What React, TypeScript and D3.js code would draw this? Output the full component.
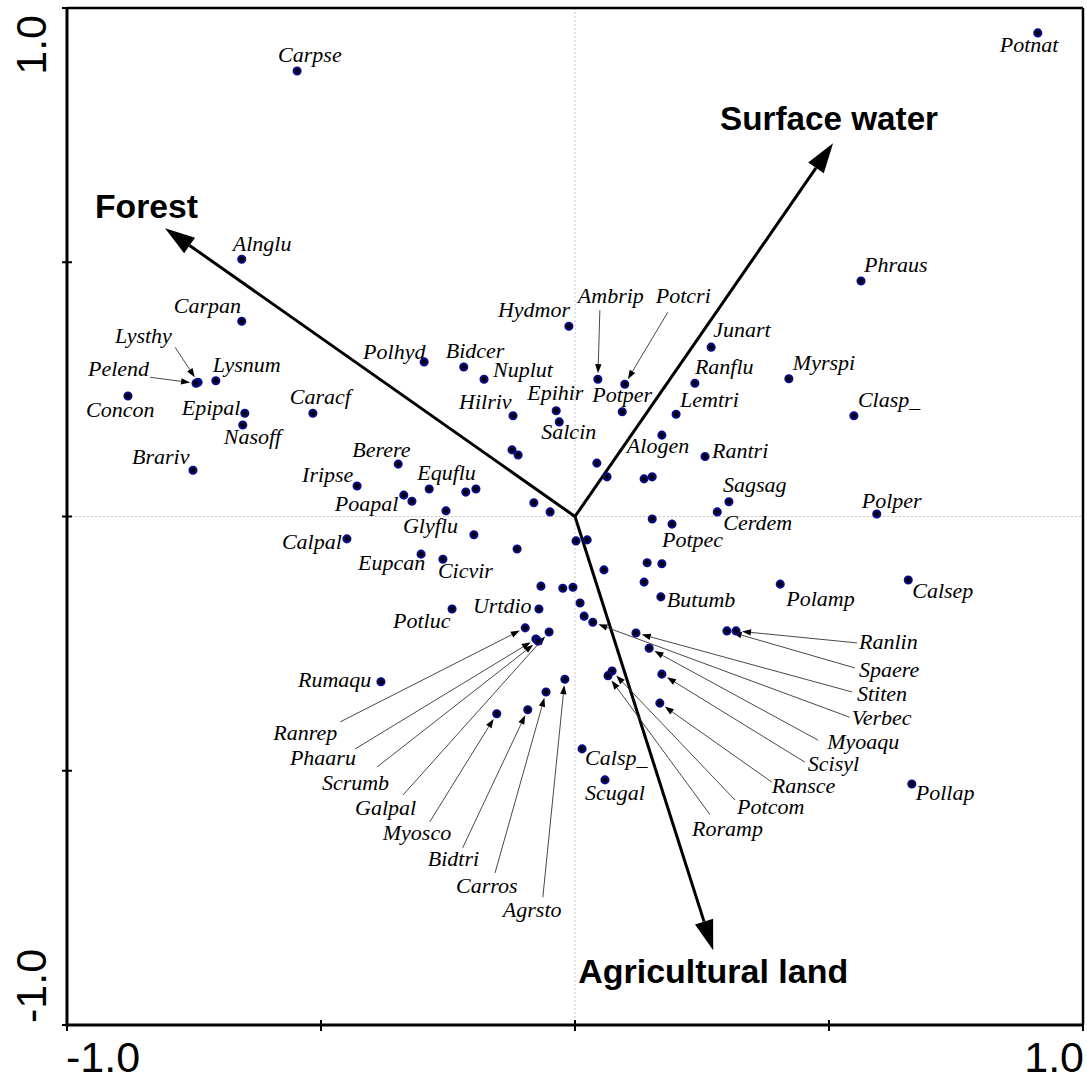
import React from "react";
import * as d3 from "d3";

// ---------- DATA ----------
const speciesNames = [
  "Carpse","Alnglu","Potnat","Phraus","Carpan","Lysthy","Pelend","Lysnum","Concon","Epipal",
  "Nasoff","Caracf","Brariv","Iripse","Calpal","Hydmor","Polhyd","Bidcer","Nuplut","Hilriv",
  "Epihir","Salcin","Ambrip","Potcri","Potper","Junart","Ranflu","Lemtri","Alogen","Rantri",
  "Berere","Equflu","Poapal","Glyflu","Eupcan","Cicvir","Potpec","Cerdem","Butumb","Myrspi",
  "Clasp_","Sagsag","Polper","Polamp","Calsep","Potluc","Urtdio","Rumaqu","Calsp_","Scugal",
  "Pollap","Ranrep","Phaaru","Scrumb","Galpal","Myosco","Bidtri","Carros","Agrsto","Ranlin",
  "Spaere","Stiten","Verbec","Myoaqu","Scisyl","Ransce","Potcom","Roramp",
];
const speciesAxis1 = [
  -0.547,-0.656,0.911,0.563,-0.656,-0.742,-0.746,-0.707,-0.880,-0.650,
  -0.654,-0.516,-0.752,-0.429,-0.449,-0.012,-0.297,-0.219,-0.179,-0.122,
  -0.037,-0.031,0.045,0.098,0.093,0.268,0.236,0.199,0.171,0.256,
  -0.348,-0.287,-0.337,-0.199,-0.303,-0.260,0.191,0.280,0.169,0.421,
  0.549,0.303,0.594,0.404,0.656,-0.242,-0.071,-0.382,0.014,0.059,
  0.663,-0.098,-0.077,-0.073,-0.051,-0.154,-0.093,-0.057,-0.020,0.317,
  0.299,0.120,0.035,0.146,0.171,0.167,0.073,0.065,
];
const speciesAxis2 = [
  0.876,0.506,0.951,0.463,0.384,0.264,0.262,0.267,0.237,0.203,
  0.180,0.203,0.091,0.060,-0.044,0.374,0.304,0.294,0.270,0.198,
  0.208,0.186,0.270,0.260,0.206,0.333,0.262,0.201,0.160,0.118,
  0.103,0.054,0.042,-0.036,-0.074,-0.084,-0.015,0.009,-0.158,0.271,
  0.198,0.029,0.005,-0.133,-0.125,-0.182,-0.182,-0.325,-0.457,-0.518,
  -0.526,-0.219,-0.241,-0.245,-0.227,-0.388,-0.380,-0.345,-0.320,-0.225,
  -0.225,-0.229,-0.208,-0.259,-0.310,-0.367,-0.304,-0.313,
];
// species drawn without a name
const unlabeledAxis1 = [
  -0.124,-0.112,0.043,0.063,0.136,0.152,-0.321,-0.215,-0.195,-0.254,
  -0.081,-0.049,-0.114,0.002,0.024,0.057,-0.067,-0.024,-0.004,0.010,
  0.018,0.152,0.142,0.171,0.136,
];
const unlabeledAxis2 = [
  0.131,0.121,0.105,0.078,0.074,0.078,0.030,0.048,0.054,0.011,
  0.027,0.009,-0.064,-0.048,-0.046,-0.105,-0.137,-0.141,-0.139,-0.170,
  -0.196,-0.005,-0.091,-0.093,-0.129,
];
const envNames = ["Forest", "Surface water", "Agricultural land"];
const envAxis1 = [-0.807, 0.508, 0.272];
const envAxis2 = [0.567, 0.734, -0.853];
const tickValues = [-1, -0.5, 0, 0.5, 1];
const tickLabels = ["-1.0", "1.0"];

// ---------- LAYOUT (label offsets, px) ----------
const labelOffsets: Record<string, [number, number]> = {
  Carpse: [-19, -9], Alnglu: [-9, -8], Potnat: [-38, 19], Phraus: [3, -9],
  Carpan: [-68, -8], Lysnum: [-3, -9], Concon: [-42, 21], Epipal: [-63, 2],
  Nasoff: [-19, 19], Caracf: [-23, -9], Brariv: [-61, -6], Iripse: [-55, -4],
  Calpal: [-65, 10], Hydmor: [-71, -9], Polhyd: [-61, -3], Bidcer: [-18, -9],
  Nuplut: [9, -2], Hilriv: [-54, -7], Epihir: [-29, -11], Salcin: [-18, 17],
  Potper: [-30, -10], Junart: [2, -10], Ranflu: [0, -9], Lemtri: [4, -7],
  Alogen: [-35, 18], Rantri: [7, 2], Berere: [-46, -7], Equflu: [-12, -9],
  Poapal: [-69, 16], Glyflu: [-71, -2], Eupcan: [-63, 16], Cicvir: [-5, 19],
  Potpec: [-10, 23], Cerdem: [6, 18], Butumb: [6, 10], Myrspi: [4, -9],
  Clasp_: [4, -9], Sagsag: [-6, -10], Polper: [-15, -6], Polamp: [6, 22],
  Calsep: [4, 18], Potluc: [-59, 19], Urtdio: [-66, 4], Rumaqu: [-83, 5],
  Calsp_: [3, 16], Scugal: [-20, 20], Pollap: [4, 16],
};
// [label dx, label dy from point, leader start dx, dy from label]
const leaderLayout: Record<string, [number, number, number, number]> = {
  Lysthy: [-83, -39, 60, 4], Pelend: [-108, -7, 62, 1],
  Ambrip: [-20, -76, 22, 7], Potcri: [31, -81, 12, 9],
  Ranrep: [-252, 112, 67, -18], Phaaru: [-246, 126, 65, -16],
  Scrumb: [-216, 149, 55, -23], Galpal: [-194, 183, 48, -20],
  Myosco: [-114, 126, 47, -18], Bidtri: [-100, 156, 35, -18],
  Carros: [-90, 201, 39, -20], Agrsto: [-62, 238, 40, -20],
  Ranlin: [123, 18, -2, -6], Spaere: [132, 46, -4, -9],
  Stiten: [221, 68, -5, -9], Verbec: [259, 103, -2, -8],
  Myoaqu: [178, 101, -9, -9], Scisyl: [146, 97, -3, -9],
  Ransce: [112, 90, 0, -11], Potcom: [125, 143, -2, -14],
  Roramp: [84, 160, 18, -21],
};
// [dx, dy, fontSize, textLength]
const envLabelLayout: [number, number, number, number][] = [
  [-70, -10, 33, 103], [-113, -13, 33, 218], [-135, 33, 33, 270],
];

const W = 1087, H = 1082;
const sx = d3.scaleLinear().domain([-1, 1]).range([67, 1083]);
const sy = d3.scaleLinear().domain([-1, 1]).range([1025, 8]);

function arrowHead(x1: number, y1: number, x2: number, y2: number, len: number, hw: number, gap: number) {
  const dx = x2 - x1, dy = y2 - y1;
  const L = Math.hypot(dx, dy);
  const ux = dx / L, uy = dy / L;
  const tx = x2 - ux * gap, ty = y2 - uy * gap;
  const bx = tx - ux * len, by = ty - uy * len;
  const px = -uy, py = ux;
  const poly = `${tx},${ty} ${bx + px * hw},${by + py * hw} ${bx - px * hw},${by - py * hw}`;
  return { poly, bx, by };
}

export default function App() {
  const serif = "'Liberation Serif', 'Times New Roman', serif";
  const sans = "'Liberation Sans', Arial, sans-serif";
  const ox = sx(0), oy = sy(0);

  return (
    <svg width={W} height={H} style={{ position: "absolute", left: 0, top: 0, background: "#fff" }}>
      {/* crosshair */}
      <line x1={ox} x2={ox} y1={sy(1)} y2={sy(-1)} stroke="#c4c4c4" strokeWidth={1} strokeDasharray="2,2" />
      <line x1={sx(-1)} x2={sx(1)} y1={oy} y2={oy} stroke="#c4c4c4" strokeWidth={1} strokeDasharray="2,2" />

      {/* frame */}
      <line x1={sx(-1)} x2={sx(1)} y1={sy(1)} y2={sy(1)} stroke="#000" strokeWidth={2.5} />
      <line x1={sx(1)} x2={sx(1)} y1={sy(1)} y2={sy(-1)} stroke="#000" strokeWidth={2.5} />
      <line x1={sx(-1)} x2={sx(-1)} y1={sy(1) - 1} y2={sy(-1) + 1.5} stroke="#000" strokeWidth={3} />
      <line x1={sx(-1) - 1.5} x2={sx(1) + 1} y1={sy(-1)} y2={sy(-1)} stroke="#000" strokeWidth={3} />
      {tickValues.map((t) => (
        <line key={"yt" + t} x1={sx(-1) - 5} x2={sx(-1) + 5} y1={sy(t)} y2={sy(t)} stroke="#000" strokeWidth={2} />
      ))}
      {tickValues.map((t) => (
        <line key={"xt" + t} x1={sx(t)} x2={sx(t)} y1={sy(-1) - 5} y2={sy(-1) + 6} stroke="#000" strokeWidth={2} />
      ))}
      {/* tick labels */}
      <text x={sx(-1) - 1} y={1072} fontFamily={sans} fontSize={43} textAnchor="start">{tickLabels[0]}</text>
      <text x={sx(1) + 1} y={1072} fontFamily={sans} fontSize={43} textAnchor="end">{tickLabels[1]}</text>
      <text transform={`translate(46,${sy(1) + 7}) rotate(-90)`} fontFamily={sans} fontSize={43} textAnchor="end">{tickLabels[1]}</text>
      <text transform={`translate(46,${sy(-1) - 2}) rotate(-90)`} fontFamily={sans} fontSize={43} textAnchor="start">{tickLabels[0]}</text>

      {/* environmental arrows */}
      {envNames.map((n, i) => {
        const tx = sx(envAxis1[i]), ty = sy(envAxis2[i]);
        const h = arrowHead(ox, oy, tx, ty, 30, 9.5, 0);
        const lo = envLabelLayout[i];
        return (
          <g key={n}>
            <line x1={ox} y1={oy} x2={h.bx} y2={h.by} stroke="#000" strokeWidth={3} />
            <polygon points={h.poly} fill="#000" />
            <text x={tx + lo[0]} y={ty + lo[1]} fontFamily={sans} fontWeight="bold" fontSize={lo[2]}
              textLength={lo[3]} lengthAdjust="spacingAndGlyphs">{n}</text>
          </g>
        );
      })}

      {/* leader lines */}
      {speciesNames.map((n, i) => {
        const L = leaderLayout[n];
        if (!L) return null;
        const px = sx(speciesAxis1[i]), py = sy(speciesAxis2[i]);
        const lx = px + L[0], ly = py + L[1];
        const stx = lx + L[2], sty = ly + L[3];
        const h = arrowHead(stx, sty, px, py, 9, 3.2, 6);
        return (
          <g key={"ld" + n}>
            <line x1={stx} y1={sty} x2={h.bx} y2={h.by} stroke="#333" strokeWidth={0.9} />
            <polygon points={h.poly} fill="#000" />
          </g>
        );
      })}

      {/* points */}
      {unlabeledAxis1.map((v, i) => (
        <circle key={"u" + i} cx={sx(v)} cy={sy(unlabeledAxis2[i])} r={3.5} fill="#000" stroke="#0a0a85" strokeWidth={2.1} />
      ))}
      {speciesNames.map((n, i) => (
        <circle key={"p" + n} cx={sx(speciesAxis1[i])} cy={sy(speciesAxis2[i])} r={3.5} fill="#000" stroke="#0a0a85" strokeWidth={2.1} />
      ))}

      {/* species labels */}
      {speciesNames.map((n, i) => {
        const px = sx(speciesAxis1[i]), py = sy(speciesAxis2[i]);
        const o = labelOffsets[n];
        const L = leaderLayout[n];
        const lx = o ? px + o[0] : px + L[0];
        const ly = o ? py + o[1] : py + L[1];
        return (
          <text key={"t" + n} x={lx} y={ly} fontFamily={serif} fontStyle="italic" fontSize={22} fill="#000">{n}</text>
        );
      })}
    </svg>
  );
}
